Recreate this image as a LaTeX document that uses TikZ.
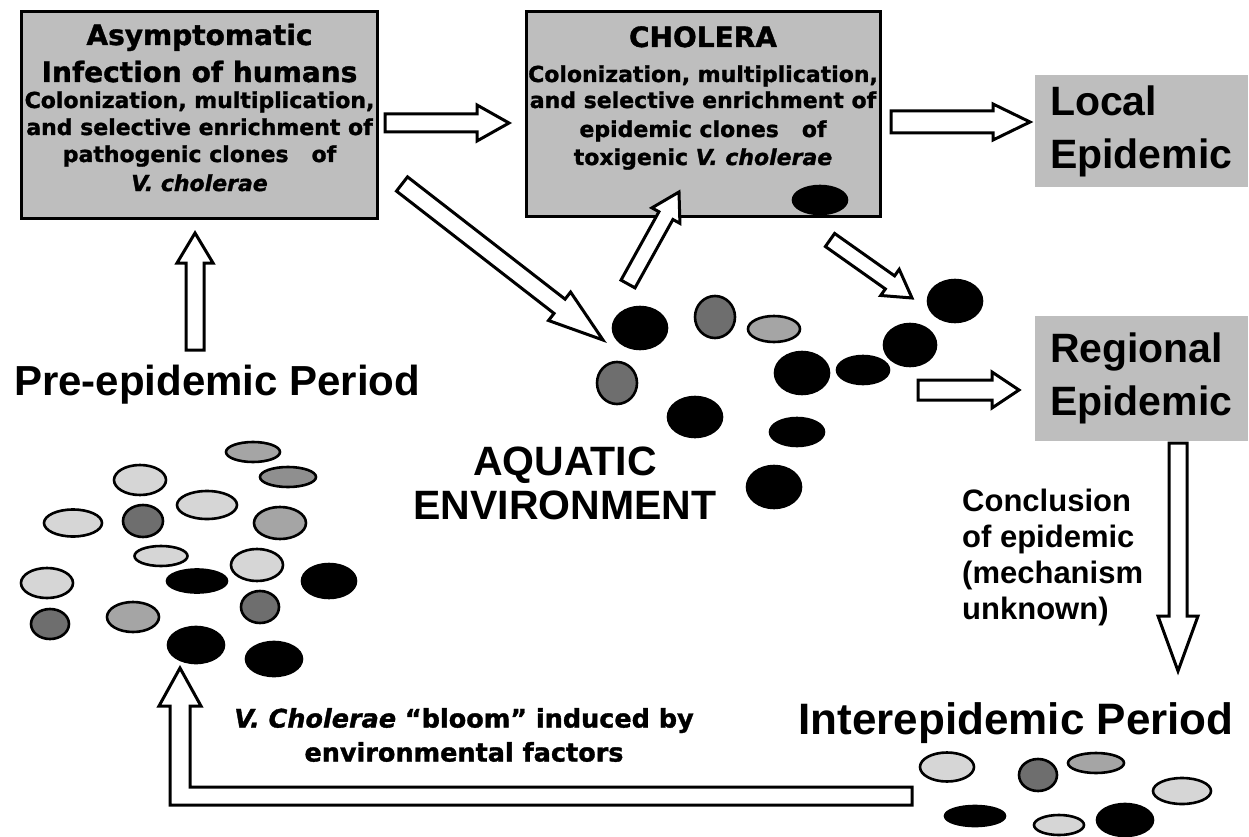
\documentclass[tikz,border=0pt]{standalone}
\usepackage{fontspec}
\setmainfont{Liberation Sans}
\newfontfamily\dvs[BoldFeatures={FakeBold=1.3},BoldItalicFeatures={FakeBold=1.3}]{DejaVu Sans}
\usetikzlibrary{calc}
\definecolor{boxgray}{HTML}{BEBEBE}
\definecolor{cl}{HTML}{D6D6D6}
\definecolor{cm}{HTML}{A5A5A5}
\definecolor{cmd}{HTML}{8F8F8F}
\definecolor{cd}{HTML}{6E6E6E}
\tikzset{
  hollow/.style={draw=black, fill=white, line width=3pt, line join=miter},
  cellst/.style={draw=black, line width=2.6pt},
  bigbox/.style={draw=black, line width=3pt, fill=boxgray, inner sep=0pt},
  epibox/.style={fill=boxgray, inner sep=0pt, align=left, text width=183pt,
     font=\bfseries\fontsize{41}{53}\selectfont},
  boxtitle/.style={font=\dvs\bfseries\fontsize{28}{35}\selectfont, anchor=base, inner sep=0pt},
  boxbody/.style={font=\dvs\bfseries\fontsize{22}{27}\selectfont, anchor=base, inner sep=0pt},
  bigtext/.style={font=\bfseries\fontsize{42}{48}\selectfont, inner sep=0pt},
}
\newcommand\harrow[5]{%
  \coordinate (hb) at ($(#2)!#5pt!(#1)$);
  \draw[hollow] ($(#1)!#3pt!90:(#2)$) -- ($(hb)!#3pt!90:(#2)$) -- ($(hb)!#4pt!90:(#2)$) -- (#2)
     -- ($(hb)!#4pt!-90:(#2)$) -- ($(hb)!#3pt!-90:(#2)$) -- ($(#1)!#3pt!-90:(#2)$) -- cycle;}
\newcommand\cell[5]{\draw[cellst, fill=#5] (#1,#2) ellipse [x radius=#3pt, y radius=#4pt];}
\begin{document}
\begin{tikzpicture}[x=1pt,y=-1pt]
\useasboundingbox (0,0) rectangle (1249,837);
\fill[white] (0,0) rectangle (1249,837);

% boxes
\node[bigbox, minimum width=356pt, minimum height=207pt] (box1) at (199.5,115) {};
\node[boxtitle] (b1t1) at (199.5,45) {Asymptomatic};
\node[boxtitle] (b1t2) at (199.5,82) {Infection of humans};
\node[boxbody] (b1l1) at (199.5,108) {Colonization, multiplication,};
\node[boxbody] (b1l2) at (199.5,135) {and selective enrichment of};
\node[boxbody] (b1l3) at (199.5,162) {pathogenic clones~~ of};
\node[boxbody] (b1l4) at (199.5,191) {\itshape V. cholerae};

\node[bigbox, minimum width=354pt, minimum height=205pt] (box2) at (703,114) {};
\node[boxtitle] (b2t1) at (703,47) {CHOLERA};
\node[boxbody] (b2l1) at (703,82) {Colonization, multiplication,};
\node[boxbody] (b2l2) at (703,108) {and selective enrichment of};
\node[boxbody] (b2l3) at (703,137) {epidemic clones~~ of};
\node[boxbody] (b2l4) at (703,165) {toxigenic {\itshape V. cholerae}};
\cell{820}{200}{27}{14}{black}

\node[epibox, minimum width=213pt, minimum height=112pt] (local) at (1141.5,131) {Local\\Epidemic};
\node[epibox, minimum width=213pt, minimum height=125pt] (regional) at (1141.5,378) {Regional\\Epidemic};

% texts
\node[bigtext, anchor=base west] (pre) at (14,395) {Pre-epidemic Period};
\node[font=\bfseries\fontsize{44}{50}\selectfont, anchor=base, inner sep=0pt] (inter) at (1016,734) {Interepidemic Period};
\node[font=\bfseries\fontsize{41}{44}\selectfont, align=center, inner sep=0pt] (aqua) at (565,483) {AQUATIC\\ENVIRONMENT};
\node[font=\bfseries\fontsize{31}{36}\selectfont, align=left, anchor=north west, inner sep=0pt] (concl) at (962,489) {Conclusion\\of epidemic\\(mechanism\\unknown)};
\node[font=\dvs\bfseries\fontsize{25.5}{34}\selectfont, align=center, inner sep=0pt] (bloom) at (464,735) {{\itshape V. Cholerae} “bloom” induced by\\environmental factors};

% left cluster
\cell{253}{452}{27}{10}{cm}
\cell{288}{477}{28}{10}{cmd}
\cell{140}{480}{26}{15}{cl}
\cell{207}{505}{30}{14}{cl}
\cell{73}{523}{29}{13.5}{cl}
\cell{143}{521}{20}{16}{cd}
\cell{280}{523}{26}{16}{cm}
\cell{161}{556}{26.5}{10}{cl}
\cell{257}{565}{26}{16}{cl}
\cell{197}{581}{30}{11.5}{black}
\cell{329}{581}{27}{17}{black}
\cell{47}{583}{26}{15}{cl}
\cell{260}{607}{19}{16}{cd}
\cell{50}{624}{19}{15}{cd}
\cell{133}{617}{26}{15}{cm}
\cell{196}{645}{28}{18}{black}
\cell{274}{659}{28}{17}{black}

% middle cluster
\cell{640}{328}{27}{21}{black}
\cell{715}{317}{20}{21}{cd}
\cell{774}{329}{26}{13}{cm}
\cell{617}{383}{20}{21}{cd}
\cell{802}{373}{27}{21}{black}
\cell{863}{370}{26}{14}{black}
\cell{910}{345}{26}{21}{black}
\cell{955}{301}{27}{21}{black}
\cell{695}{417}{27}{20}{black}
\cell{797}{432}{27}{14}{black}
\cell{774}{487}{27}{21}{black}

% bottom right cluster
\cell{947}{767}{27}{14.5}{cl}
\cell{1038}{775}{19}{16}{cd}
\cell{1096}{763}{28}{10}{cm}
\cell{1182}{791}{29}{13}{cl}
\cell{975}{816}{30}{10}{black}
\cell{1059}{825}{25}{10}{cl}
\cell{1125}{820}{28}{16}{black}

% arrow end points
\coordinate (a1s) at (385,123);  \coordinate (a1e) at (509,123);
\coordinate (a2s) at (891,122);  \coordinate (a2e) at (1030,122);
\coordinate (a3s) at (195,350);  \coordinate (a3e) at (195,233);
\coordinate (a4s) at (402,184);  \coordinate (a4e) at (603,340);
\coordinate (a5s) at (628,284);  \coordinate (a5e) at (679,192);
\coordinate (a6s) at (830,240);  \coordinate (a6e) at (912,298);
\coordinate (a7s) at (918,390);  \coordinate (a7e) at (1019,390);
\coordinate (a8s) at (1178,443); \coordinate (a8e) at (1178,671);
\coordinate (lstart) at (912,796);
\coordinate (lcorner) at (180,796);
\coordinate (lend) at (180,668);

\harrow{a1s}{a1e}{9}{18}{32}
\harrow{a2s}{a2e}{11}{18}{37}
\harrow{a3s}{a3e}{9}{18}{30}
\harrow{a4s}{a4e}{9}{18}{55}
\harrow{a5s}{a5e}{8}{16}{27}
\harrow{a6s}{a6e}{8}{16}{27}
\harrow{a7s}{a7e}{10}{18}{27}
\harrow{a8s}{a8e}{9}{20}{55}

\draw[hollow] ([yshift=9pt]lstart) -- ([shift={(10pt,9pt)}]lcorner) -- ([shift={(10pt,-38pt)}]lend)
  -- ([shift={(21pt,-38pt)}]lend) -- (lend) -- ([shift={(-21pt,-38pt)}]lend)
  -- ([shift={(-10pt,-38pt)}]lend) -- ([shift={(-10pt,-9pt)}]lcorner) -- ([yshift=-9pt]lstart) -- cycle;
\end{tikzpicture}
\end{document}
